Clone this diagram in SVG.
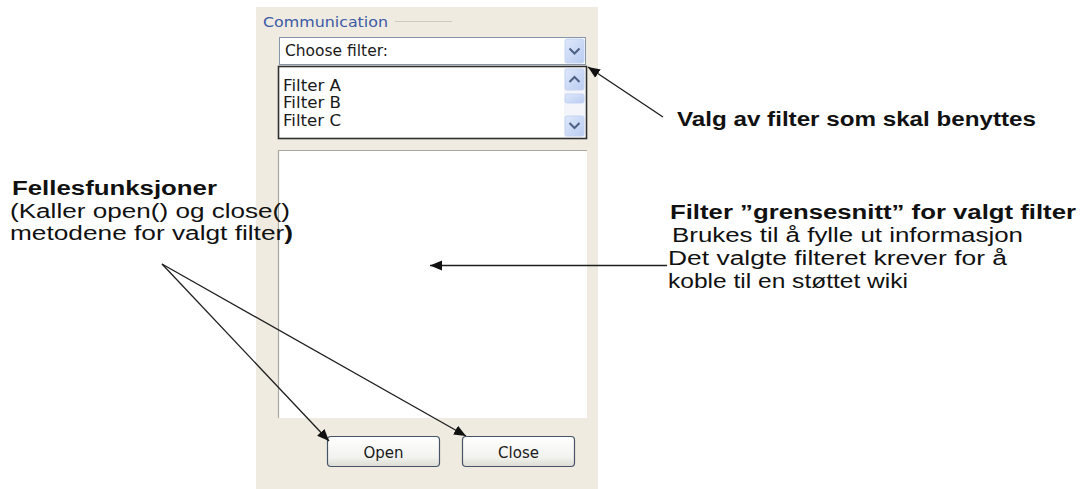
<svg xmlns="http://www.w3.org/2000/svg" width="1088" height="489" viewBox="0 0 1088 489">
  <style>
    .ui { font-family: Tahoma, "DejaVu Sans", "Liberation Sans", sans-serif; fill: #1a1a1a; }
    .lbl { font-family: "Liberation Sans", Arial, sans-serif; fill: #111; }
    .b { font-weight: bold; }
    .conn { stroke: #1e1e1e; stroke-width: 1.3; fill: none; marker-end: url(#ah); }
  </style>
  <defs>
    <marker id="ah" markerUnits="userSpaceOnUse" markerWidth="13" markerHeight="11" refX="12" refY="5.5" orient="auto">
      <path d="M0,0.5 L12,5.5 L0,10.5 z" fill="#111"/>
    </marker>
    <linearGradient id="btn" x1="0" y1="0" x2="0" y2="1">
      <stop offset="0" stop-color="#ffffff"/>
      <stop offset="0.7" stop-color="#f2f2ee"/>
      <stop offset="1" stop-color="#dcdcd4"/>
    </linearGradient>
    <linearGradient id="sb" x1="0" y1="0" x2="1" y2="1">
      <stop offset="0" stop-color="#dfe8fb"/>
      <stop offset="1" stop-color="#b9ccf1"/>
    </linearGradient>
  </defs>

  <rect width="1088" height="489" fill="#ffffff"/>

  <!-- dialog panel -->
  <g id="panel">
    <rect x="256" y="7" width="342" height="482" fill="#efebe1"/>
    <text class="ui" x="263" y="27" font-size="14" style="fill:#3d5aa6" textLength="125" lengthAdjust="spacingAndGlyphs">Communication</text>
    <line x1="395" y1="21.5" x2="452" y2="21.5" stroke="#cfcabd" stroke-width="1"/>
  </g>

  <!-- filter selector -->
  <g id="combo">
    <rect x="279.5" y="37.5" width="306" height="27" fill="#ffffff" stroke="#8795a8"/>
    <text class="ui" x="285" y="56" font-size="15" textLength="103" lengthAdjust="spacingAndGlyphs">Choose filter:</text>
    <rect x="565" y="39" width="19" height="24" fill="url(#sb)" stroke="#c6d4f2" stroke-width="1" rx="2"/>
    <path d="M569.5,48.5 L574.5,53.5 L579.5,48.5" stroke="#4d6185" stroke-width="2" fill="none"/>
  </g>

  <!-- list of filters -->
  <g id="filterlist">
    <rect x="278.5" y="66.5" width="308" height="72" fill="#ffffff" stroke="#2f2f2f" stroke-width="1.6"/>
    <text class="ui" x="283" y="91" font-size="15" textLength="58" lengthAdjust="spacingAndGlyphs">Filter A</text>
    <text class="ui" x="283" y="108" font-size="15" textLength="58" lengthAdjust="spacingAndGlyphs">Filter B</text>
    <text class="ui" x="283" y="126" font-size="15" textLength="58" lengthAdjust="spacingAndGlyphs">Filter C</text>
    <rect x="564" y="68" width="21" height="69" fill="#f3f5fb"/>
    <rect x="565" y="69" width="19" height="21" fill="url(#sb)" stroke="#c6d4f2" rx="2"/>
    <path d="M569.5,82 L574.5,77 L579.5,82" stroke="#4d6185" stroke-width="2" fill="none"/>
    <rect x="565" y="94" width="19" height="9" fill="url(#sb)" stroke="#c6d4f2" rx="2"/>
    <rect x="565" y="116" width="19" height="20" fill="url(#sb)" stroke="#c6d4f2" rx="2"/>
    <path d="M569.5,123 L574.5,128 L579.5,123" stroke="#4d6185" stroke-width="2" fill="none"/>
  </g>

  <!-- filter interface area -->
  <g id="filterarea">
    <rect x="278" y="150" width="309" height="268" fill="#ffffff"/>
    <path d="M278.5,418 L278.5,150.5 L587,150.5" stroke="#a9a79e" stroke-width="1.2" fill="none"/>
  </g>

  <!-- buttons -->
  <g id="btn-open">
    <rect x="327.5" y="436.5" width="112" height="30" rx="3.5" fill="url(#btn)" stroke="#475468" stroke-width="1.2"/>
    <text class="ui" x="383.5" y="457.5" font-size="15" text-anchor="middle">Open</text>
  </g>
  <g id="btn-close">
    <rect x="462.5" y="436.5" width="112" height="30" rx="3.5" fill="url(#btn)" stroke="#475468" stroke-width="1.2"/>
    <text class="ui" x="518.5" y="457.5" font-size="15" text-anchor="middle">Close</text>
  </g>

  <!-- annotation texts -->
  <g id="note-select">
    <text class="lbl b" x="677" y="126" font-size="20" textLength="359" lengthAdjust="spacingAndGlyphs">Valg av filter som skal benyttes</text>
  </g>
  <g id="note-interface">
    <text class="lbl b" x="670" y="219" font-size="20" textLength="406" lengthAdjust="spacingAndGlyphs">Filter ”grensesnitt” for valgt filter</text>
    <text class="lbl" x="672" y="242" font-size="20" textLength="351" lengthAdjust="spacingAndGlyphs">Brukes til å fylle ut informasjon</text>
    <text class="lbl" x="668" y="265" font-size="20" textLength="339" lengthAdjust="spacingAndGlyphs">Det valgte filteret krever for å</text>
    <text class="lbl" x="668" y="288" font-size="20" textLength="240" lengthAdjust="spacingAndGlyphs">koble til en støttet wiki</text>
  </g>
  <g id="note-common">
    <text class="lbl b" x="12" y="195" font-size="20" textLength="205" lengthAdjust="spacingAndGlyphs">Fellesfunksjoner</text>
    <text class="lbl" x="10" y="218" font-size="20" textLength="280" lengthAdjust="spacingAndGlyphs">(Kaller open() og close()</text>
    <text class="lbl" x="10" y="240" font-size="20" textLength="283" lengthAdjust="spacingAndGlyphs">metodene for valgt filter<tspan font-weight="bold">)</tspan></text>
  </g>

  <!-- connectors -->
  <g id="connectors">
    <line class="conn" x1="663" y1="117" x2="588" y2="67"/>
    <line class="conn" x1="667" y1="265.5" x2="430" y2="265.5"/>
    <line class="conn" x1="162" y1="264" x2="329" y2="441"/>
    <line class="conn" x1="162" y1="264" x2="466" y2="436"/>
  </g>
</svg>
